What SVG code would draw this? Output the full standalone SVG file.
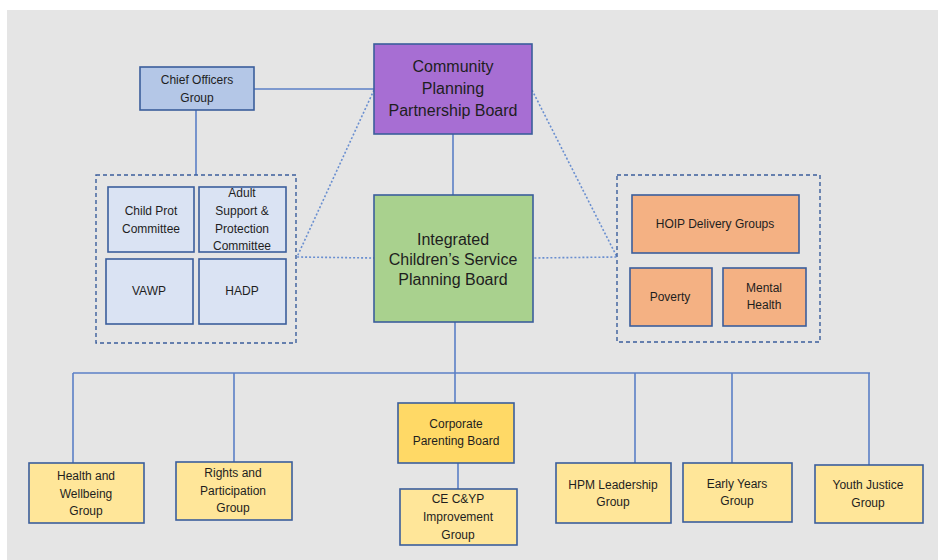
<svg xmlns="http://www.w3.org/2000/svg" width="938" height="560" viewBox="0 0 938 560">
  <style>
    .box { stroke: #3B5E9C; stroke-width: 1.6; }
    .purple { fill: #A76ED3; }
    .green { fill: #A9D18E; }
    .blue { fill: #B4C7E7; }
    .pale { fill: #DAE3F3; }
    .orange { fill: #F4B183; }
    .gold { fill: #FFD966; }
    .yellow { fill: #FFE699; }
    .frame { fill: none; stroke: #3B5E9C; stroke-width: 1.4; stroke-dasharray: 4 3; }
    .link { fill: none; stroke: #5B7FC6; stroke-width: 1.6; }
    .dot { fill: none; stroke: #6A8FD0; stroke-width: 1.6; stroke-dasharray: 2 2; }
    text { font-family: "Liberation Sans", Arial, sans-serif; fill: #1E1E1E; text-anchor: middle; }
    .lg { font-size: 16px; }
    .sm { font-size: 12px; }
  </style>

  <rect x="0" y="0" width="938" height="560" fill="#FFFFFF"/>
  <rect x="7" y="10" width="931" height="550" fill="#E5E5E5"/>

  <!-- connectors -->
  <g id="connectors">
    <line class="link" x1="254" y1="89" x2="374" y2="89"/>
    <line class="link" x1="196" y1="110" x2="196" y2="175"/>
    <line class="link" x1="453" y1="134" x2="453" y2="195"/>
    <path class="dot" d="M374 90 L297 257 L374 258"/>
    <path class="dot" d="M532 90 L617 257 L533 258"/>
    <line class="link" x1="455" y1="322" x2="455" y2="403"/>
    <line class="link" x1="73" y1="373" x2="870" y2="373"/>
    <line class="link" x1="73" y1="373" x2="73" y2="463"/>
    <line class="link" x1="234" y1="373" x2="234" y2="462"/>
    <line class="link" x1="635" y1="373" x2="635" y2="463"/>
    <line class="link" x1="732" y1="373" x2="732" y2="463"/>
    <line class="link" x1="869" y1="373" x2="869" y2="465"/>
    <line class="link" x1="458" y1="463" x2="458" y2="489"/>
  </g>

  <!-- dashed groupings -->
  <rect class="frame" x="96" y="175" width="200" height="168"/>
  <rect class="frame" x="617" y="175" width="203" height="167"/>

  <g id="cppb">
    <rect class="box purple" x="374" y="44" width="158" height="90"/>
    <text class="lg" x="453" y="72">Community</text>
    <text class="lg" x="453" y="94">Planning</text>
    <text class="lg" x="453" y="116">Partnership Board</text>
  </g>

  <g id="chief-officers">
    <rect class="box blue" x="140" y="67" width="114" height="43"/>
    <text class="sm" x="197" y="83.5">Chief Officers</text>
    <text class="sm" x="197" y="101.5">Group</text>
  </g>

  <g id="child-prot">
    <rect class="box pale" x="108" y="187" width="86" height="65"/>
    <text class="sm" x="151" y="215">Child Prot</text>
    <text class="sm" x="151" y="232.5">Committee</text>
  </g>

  <g id="adult-support">
    <rect class="box pale" x="199" y="187" width="87" height="65"/>
    <text class="sm" x="242" y="197">Adult</text>
    <text class="sm" x="242" y="215">Support &amp;</text>
    <text class="sm" x="242" y="232.5">Protection</text>
    <text class="sm" x="242" y="249.5">Committee</text>
  </g>

  <g id="vawp">
    <rect class="box pale" x="106" y="259" width="87" height="65"/>
    <text class="sm" x="149" y="295">VAWP</text>
  </g>

  <g id="hadp">
    <rect class="box pale" x="199" y="259" width="87" height="65"/>
    <text class="sm" x="242" y="295">HADP</text>
  </g>

  <g id="icspb">
    <rect class="box green" x="374" y="195" width="159" height="127"/>
    <text class="lg" x="453" y="245">Integrated</text>
    <text class="lg" x="453" y="265">Children’s Service</text>
    <text class="lg" x="453" y="285">Planning Board</text>
  </g>

  <g id="hoip">
    <rect class="box orange" x="632" y="195" width="167" height="58"/>
    <text class="sm" x="715" y="227.5">HOIP Delivery Groups</text>
  </g>

  <g id="poverty">
    <rect class="box orange" x="630" y="268" width="82" height="58"/>
    <text class="sm" x="670" y="301">Poverty</text>
  </g>

  <g id="mental-health">
    <rect class="box orange" x="723" y="268" width="83" height="58"/>
    <text class="sm" x="764" y="292">Mental</text>
    <text class="sm" x="764" y="309">Health</text>
  </g>

  <g id="health-wellbeing">
    <rect class="box yellow" x="29" y="463" width="115" height="60"/>
    <text class="sm" x="86" y="480">Health and</text>
    <text class="sm" x="86" y="497.5">Wellbeing</text>
    <text class="sm" x="86" y="515">Group</text>
  </g>

  <g id="rights-participation">
    <rect class="box yellow" x="176" y="462" width="116" height="58"/>
    <text class="sm" x="233" y="477">Rights and</text>
    <text class="sm" x="233" y="494.5">Participation</text>
    <text class="sm" x="233" y="512">Group</text>
  </g>

  <g id="corporate-parenting">
    <rect class="box gold" x="398" y="403" width="116" height="60"/>
    <text class="sm" x="456" y="427.5">Corporate</text>
    <text class="sm" x="456" y="445">Parenting Board</text>
  </g>

  <g id="ce-cyp">
    <rect class="box yellow" x="400" y="489" width="117" height="56"/>
    <text class="sm" x="458" y="503">CE C&amp;YP</text>
    <text class="sm" x="458" y="521">Improvement</text>
    <text class="sm" x="458" y="538.5">Group</text>
  </g>

  <g id="hpm-leadership">
    <rect class="box yellow" x="556" y="463" width="115" height="60"/>
    <text class="sm" x="613" y="489">HPM Leadership</text>
    <text class="sm" x="613" y="506">Group</text>
  </g>

  <g id="early-years">
    <rect class="box yellow" x="683" y="463" width="109" height="59"/>
    <text class="sm" x="737" y="487.5">Early Years</text>
    <text class="sm" x="737" y="505">Group</text>
  </g>

  <g id="youth-justice">
    <rect class="box yellow" x="815" y="465" width="108" height="58"/>
    <text class="sm" x="868" y="489">Youth Justice</text>
    <text class="sm" x="868" y="506.5">Group</text>
  </g>
</svg>
